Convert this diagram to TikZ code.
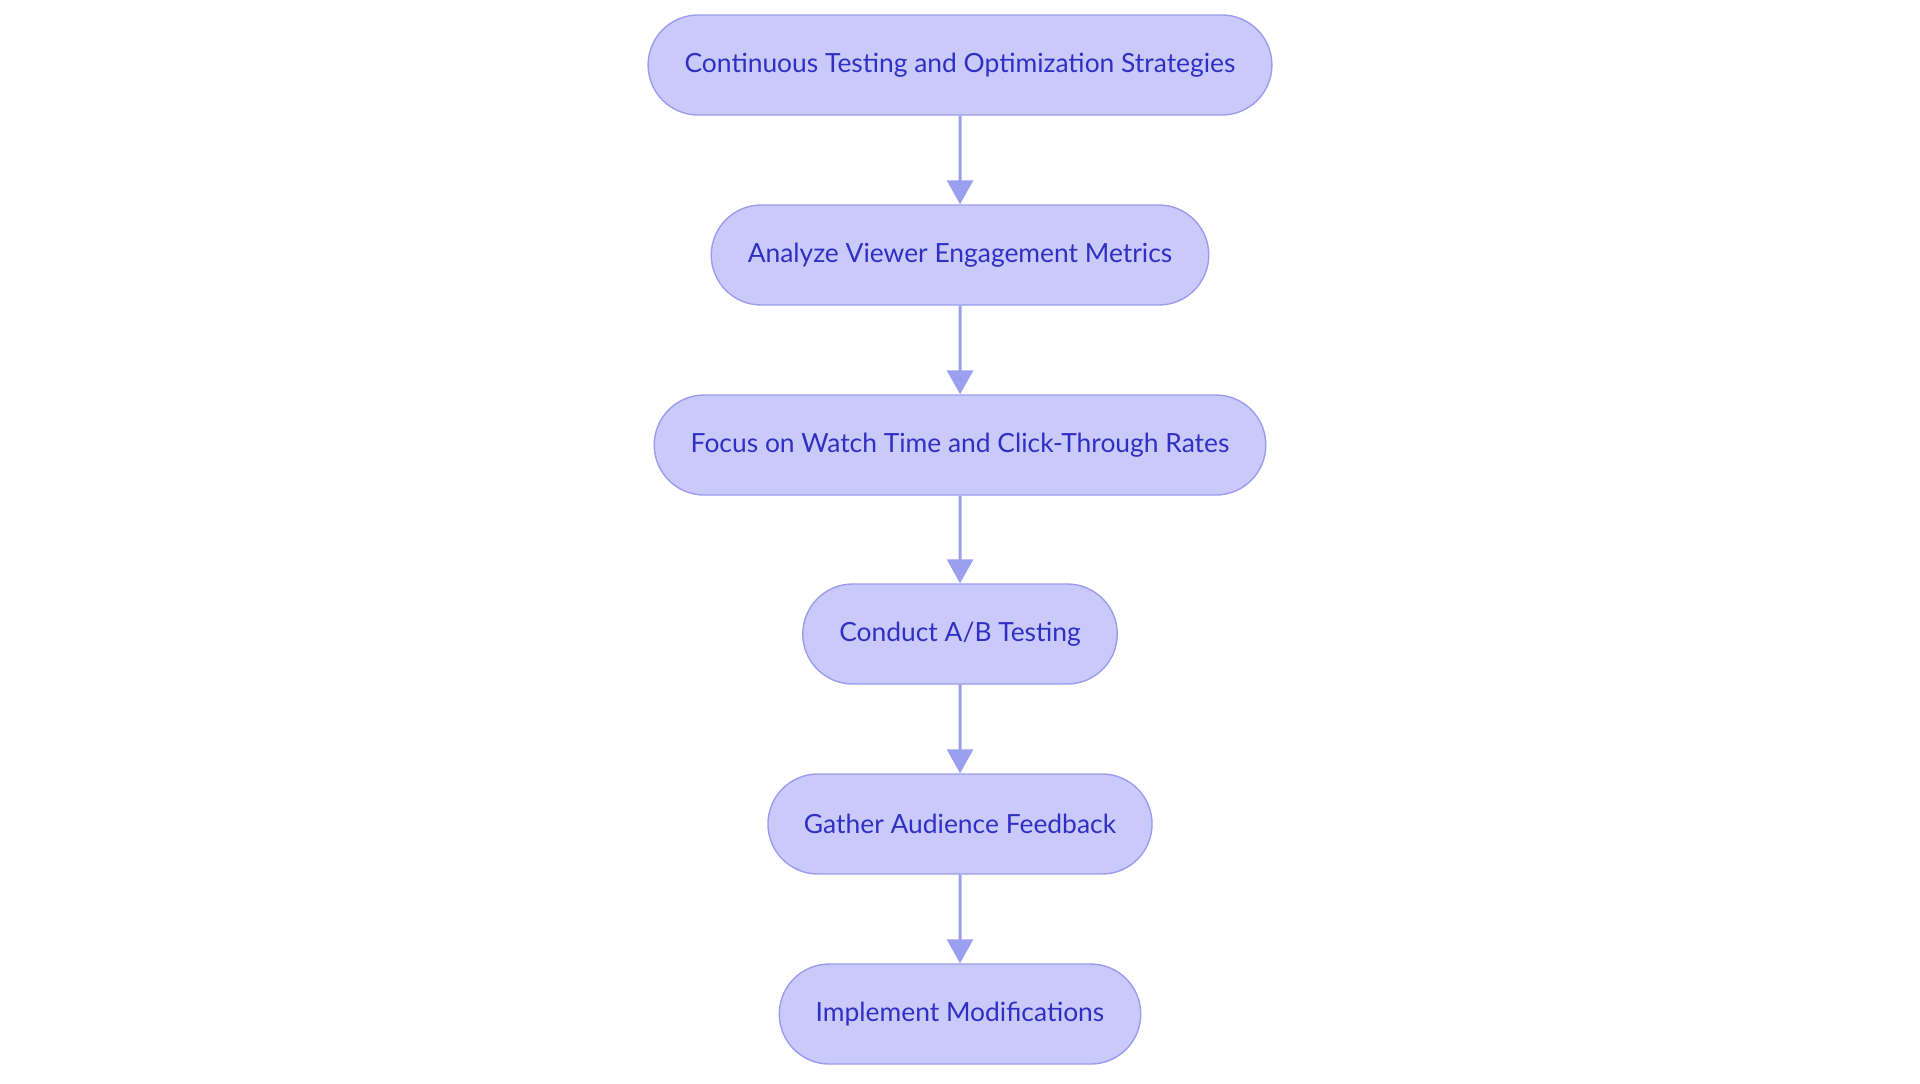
\documentclass[tikz,border=0pt]{standalone}
\usepackage{fontspec}
\setmainfont{Lato}
\usetikzlibrary{shapes.misc,arrows.meta}
\definecolor{boxfill}{HTML}{C9CAFA}
\definecolor{boxline}{HTML}{9A9CEE}
\definecolor{boxtext}{HTML}{2F2FC4}
\definecolor{arrowcol}{HTML}{9A9FF0}
\tikzset{
  stepbox/.style={rounded rectangle, draw=boxline, fill=boxfill, line width=0.7pt,
    minimum height=50pt, inner xsep=17.5pt, text=boxtext,
    font=\fontsize{13.2pt}{15pt}\selectfont},
  flow/.style={draw=arrowcol, line width=1.5pt, -{Triangle[length=12pt,width=13pt]}}
}
\begin{document}
\begin{tikzpicture}[x=0.5pt,y=-0.5pt]
\useasboundingbox (0,0) rectangle (1920,1083);
\node[stepbox] (n1) at (960,65) {Continuous Testing and Optimization Strategies};
\node[stepbox] (n2) at (960,255) {Analyze Viewer Engagement Metrics};
\node[stepbox] (n3) at (960,445) {Focus on Watch Time and Click-Through Rates};
\node[stepbox] (n4) at (960,634) {Conduct A/B Testing};
\node[stepbox] (n5) at (960,824) {Gather Audience Feedback};
\node[stepbox] (n6) at (960,1014) {Implement Modifications};
\draw[flow] (n1) -- (n2);
\draw[flow] (n2) -- (n3);
\draw[flow] (n3) -- (n4);
\draw[flow] (n4) -- (n5);
\draw[flow] (n5) -- (n6);
\end{tikzpicture}
\end{document}
